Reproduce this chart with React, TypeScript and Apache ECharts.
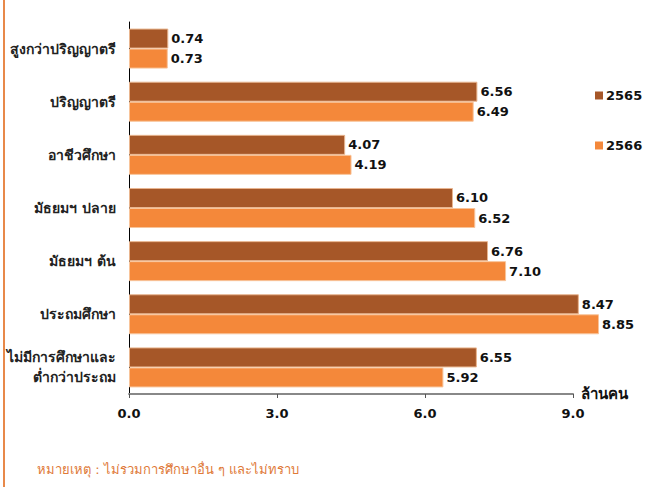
import React, { useEffect, useRef } from "react";
import * as echarts from "echarts";

const categories = [
  "สูงกว่าปริญญาตรี",
  "ปริญญาตรี",
  "อาชีวศึกษา",
  "มัธยมฯ ปลาย",
  "มัธยมฯ ต้น",
  "ประถมศึกษา",
  "ไม่มีการศึกษาและ\nต่ำกว่าประถม",
];
const values2565 = [0.74, 6.56, 4.07, 6.1, 6.76, 8.47, 6.55];
const values2566 = [0.73, 6.49, 4.19, 6.52, 7.1, 8.85, 5.92];
const seriesNames = ["2565", "2566"];
const axisTicks = [0, 3, 6, 9];
const axisName = "ล้านคน";
const footnote = "หมายเหตุ : ไม่รวมการศึกษาอื่น ๆ และไม่ทราบ";

const FONT = "Tahoma, 'DejaVu Sans', 'Noto Sans', sans-serif";

export default function App() {
  const ref = useRef<HTMLDivElement>(null);
  useEffect(() => {
    if (!ref.current) return;
    const chart = echarts.init(ref.current, null, { renderer: "svg" });
    const labelStyle = {
      show: true,
      position: "right" as const,
      distance: 3,
      color: "#111",
      fontWeight: "bold" as const,
      fontSize: 13,
      fontFamily: FONT,
      formatter: (p: any) => Number(p.value).toFixed(2),
    };
    chart.setOption({
      animation: false,
      backgroundColor: "#ffffff",
      textStyle: { fontFamily: FONT },
      grid: { left: 129, right: 87, top: 22, bottom: 101, containLabel: false },
      legend: {
        orient: "vertical",
        left: 590,
        top: 84,
        itemGap: 37,
        itemWidth: 8,
        itemHeight: 8,
        icon: "rect",
        itemStyle: { borderWidth: 0 },
        textStyle: { fontWeight: "bold", fontSize: 13, color: "#111", fontFamily: FONT, padding: [0, 0, 0, -2] },
        data: seriesNames,
      },
      xAxis: [
        {
          type: "value",
          min: axisTicks[0],
          max: axisTicks[axisTicks.length - 1],
          interval: 3,
          name: axisName,
          nameLocation: "end",
          nameGap: 8,
          nameTextStyle: { fontWeight: "bold", fontSize: 15, color: "#111", fontFamily: FONT, verticalAlign: "middle", padding: [4, 0, 0, 0] },
          axisLine: { show: true, lineStyle: { color: "#888", width: 2 } },
          axisTick: { show: true, length: 4, lineStyle: { color: "#555" } },
          splitLine: { show: false },
          axisLabel: {
            margin: 13,
            fontWeight: "bold",
            fontSize: 13,
            color: "#111",
            fontFamily: FONT,
            formatter: (v: number) => v.toFixed(1),
          },
        },
        {
          type: "value",
          min: 0,
          max: 8.36,
          show: false,
        },
      ],
      yAxis: {
        type: "category",
        data: categories,
        inverse: true,
        axisLine: { show: true, lineStyle: { color: "#000", width: 1 } },
        axisTick: { show: false },
        axisLabel: {
          margin: 13,
          fontWeight: "bold",
          fontSize: 14,
          color: "#222",
          fontFamily: FONT,
          lineHeight: 20,
        },
      },
      series: [
        {
          name: seriesNames[0],
          type: "bar",
          xAxisIndex: 1,
          data: values2565,
          barGap: "0%",
          barCategoryGap: "24.7%",
          clip: false,
          itemStyle: { color: "#A65728", borderColor: "#E8B58F", borderWidth: 1 },
          label: labelStyle,
        },
        {
          name: seriesNames[1],
          type: "bar",
          xAxisIndex: 1,
          data: values2566,
          barGap: "0%",
          barCategoryGap: "24.7%",
          clip: false,
          itemStyle: { color: "#F4883A", borderColor: "#F8C49A", borderWidth: 1 },
          label: labelStyle,
        },
      ],
      graphic: [
        {
          type: "line",
          shape: { x1: 4, y1: 0, x2: 4, y2: 487 },
          style: { stroke: "#E8894A", lineWidth: 2 },
        },
        {
          type: "text",
          left: 37,
          top: 463,
          style: { text: footnote, fill: "#E07A38", fontSize: 13, fontFamily: FONT },
        },
      ],
    });
    return () => chart.dispose();
  }, []);
  return (
    <div
      ref={ref}
      style={{ position: "fixed", left: 0, top: 0, width: 660, height: 495 }}
    />
  );
}
